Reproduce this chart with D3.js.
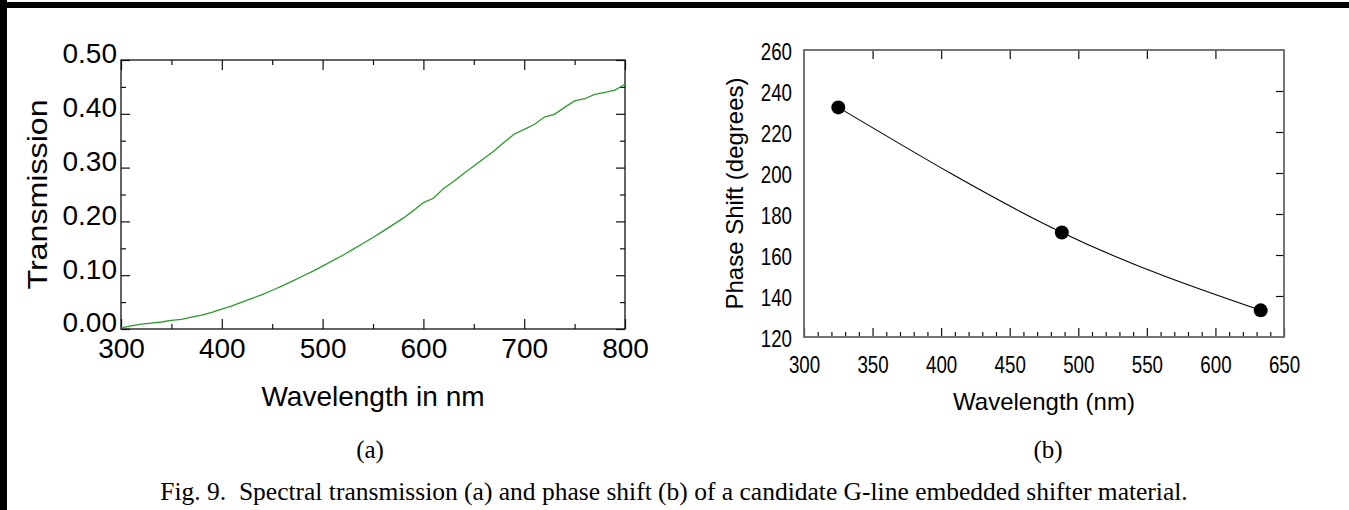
<!DOCTYPE html>
<html>
<head>
<meta charset="utf-8">
<script src="https://cdn.jsdelivr.net/npm/d3@7"></script>
<style>
  body { margin: 0; background: #fff; }
  text { font-family: "Liberation Sans", Arial, sans-serif; }
  .serif { font-family: "Liberation Serif", "Times New Roman", serif; }
</style>
</head>
<body>
<svg width="1349" height="510"></svg>
<script>
// (a) spectral transmission, every 10 nm
var wavelengthA = [300, 310, 320, 330, 340, 350, 360, 370, 380, 390,
                   400, 410, 420, 430, 440, 450, 460, 470, 480, 490,
                   500, 510, 520, 530, 540, 550, 560, 570, 580, 590,
                   600, 610, 620, 630, 640, 650, 660, 670, 680, 690,
                   700, 710, 720, 730, 740, 750, 760, 770, 780, 790, 800];
var transmission = [0.002, 0.006, 0.009, 0.011, 0.013, 0.016, 0.018, 0.022, 0.026, 0.031,
                    0.037, 0.043, 0.050, 0.057, 0.064, 0.072, 0.080, 0.089, 0.098, 0.107,
                    0.117, 0.127, 0.137, 0.148, 0.159, 0.170, 0.182, 0.194, 0.206, 0.220,
                    0.235, 0.243, 0.261, 0.274, 0.289, 0.303, 0.317, 0.331, 0.347, 0.362,
                    0.371, 0.380, 0.394, 0.399, 0.412, 0.424, 0.428, 0.436, 0.440, 0.444, 0.455];
var xTicksA = [300, 400, 500, 600, 700, 800];
var xMinorA = [350, 450, 550, 650, 750];
var yTicksA = [0, 0.1, 0.2, 0.3, 0.4, 0.5];
var yMinorA = [0.05, 0.15, 0.25, 0.35, 0.45];

// (b) phase shift at three laser lines
var wavelengthB = [325, 488, 633];
var phaseShift = [232, 171, 133];
var xTicksB = [300, 350, 400, 450, 500, 550, 600, 650];
var xMinorB = d3.range(310, 650, 10).filter(function(d) { return d % 50 != 0; });
var yTicksB = [120, 140, 160, 180, 200, 220, 240, 260];

var svg = d3.select("svg");
svg.append("rect").attr("width", 1349).attr("height", 510).attr("fill", "#fff");

// page borders
svg.append("rect").attr("x", 0).attr("y", 0).attr("width", 7).attr("height", 510).attr("fill", "#000");
svg.append("rect").attr("x", 0).attr("y", 2).attr("width", 1349).attr("height", 6).attr("fill", "#000");

// ---------- chart (a) ----------
var xA = d3.scaleLinear().domain([300, 800]).range([121, 625]),
    yA = d3.scaleLinear().domain([0, 0.5]).range([329, 60]);

var gA = svg.append("g");

function tickAxis(g, axis, y0, x0) {
  var a = g.append("g").attr("transform", "translate(" + (x0 || 0) + "," + (y0 || 0) + ")").call(axis);
  a.select(".domain").remove();
  a.selectAll("line").attr("stroke", "#111").attr("stroke-width", 1.2);
  return a;
}

var botA = tickAxis(gA, d3.axisBottom(xA).tickValues(xTicksA).tickSize(-10).tickPadding(9), 329);
botA.selectAll("text").attr("font-size", 28).attr("fill", "#000")
    .style("font-family", "Liberation Sans, Arial, sans-serif");
tickAxis(gA, d3.axisBottom(xA).tickValues(xMinorA).tickSize(-5).tickFormat(""), 329);
tickAxis(gA, d3.axisTop(xA).tickValues(xTicksA).tickSize(-10).tickFormat(""), 60);
tickAxis(gA, d3.axisTop(xA).tickValues(xMinorA).tickSize(-5).tickFormat(""), 60);

var leftA = tickAxis(gA, d3.axisLeft(yA).tickValues(yTicksA).tickSize(-9).tickPadding(4).tickFormat(d3.format(".2f")), 0, 121);
leftA.selectAll("text").attr("font-size", 28).attr("fill", "#000").attr("dy", "0.1em")
    .style("font-family", "Liberation Sans, Arial, sans-serif");
tickAxis(gA, d3.axisLeft(yA).tickValues(yMinorA).tickSize(-5).tickFormat(""), 0, 121);
tickAxis(gA, d3.axisRight(yA).tickValues(yTicksA).tickSize(-9).tickFormat(""), 0, 625);
tickAxis(gA, d3.axisRight(yA).tickValues(yMinorA).tickSize(-5).tickFormat(""), 0, 625);

gA.append("rect")
    .attr("x", xA(300)).attr("y", yA(0.5))
    .attr("width", xA(800) - xA(300)).attr("height", yA(0) - yA(0.5))
    .attr("fill", "none").attr("stroke", "#111").attr("stroke-width", 1.3);

var lineA = d3.line()
    .x(function(d, i) { return xA(wavelengthA[i]); })
    .y(function(d) { return yA(d); });

gA.append("path")
    .datum(transmission)
    .attr("d", lineA)
    .attr("fill", "none")
    .attr("stroke", "#2e9a2e")
    .attr("stroke-width", 1.3);

gA.append("text")
    .attr("transform", "translate(47," + ((yA(0) + yA(0.5)) / 2) + ") rotate(-90) scale(1.15,1)")
    .attr("text-anchor", "middle")
    .attr("font-size", 28)
    .text("Transmission");

gA.append("text")
    .attr("x", (xA(300) + xA(800)) / 2).attr("y", 406)
    .attr("text-anchor", "middle")
    .attr("font-size", 28)
    .text("Wavelength in nm");

gA.append("text").attr("class", "serif")
    .attr("x", 370).attr("y", 458)
    .attr("text-anchor", "middle")
    .attr("font-size", 25)
    .text("(a)");

// ---------- chart (b) ----------
var xB = d3.scaleLinear().domain([300, 650]).range([804, 1284]),
    yB = d3.scaleLinear().domain([120, 260]).range([337, 50]);

var gB = svg.append("g");
var narrow = 0.78;

var botB = tickAxis(gB, d3.axisBottom(xB).tickValues(xTicksB).tickSize(-9).tickPadding(19), 337);
botB.selectAll("text").attr("font-size", 24).attr("fill", "#000")
    .attr("transform", "scale(" + narrow + ",1)")
    .style("font-family", "Liberation Sans, Arial, sans-serif");
tickAxis(gB, d3.axisBottom(xB).tickValues(xMinorB).tickSize(-5).tickFormat(""), 337);
tickAxis(gB, d3.axisTop(xB).tickValues(xTicksB.slice(1, -1)).tickSize(-9).tickFormat(""), 50);
tickAxis(gB, d3.axisRight(yB).tickValues(yTicksB.slice(1, -1)).tickSize(-8).tickFormat(""), 0, 1284);

var leftB = tickAxis(gB, d3.axisLeft(yB).tickValues(yTicksB).tickSize(0).tickPadding(12), 0, 804);
leftB.selectAll("text").attr("font-size", 24).attr("fill", "#000")
    .attr("x", -12 / narrow).attr("dy", "0.38em")
    .attr("transform", "scale(" + narrow + ",1)")
    .style("font-family", "Liberation Sans, Arial, sans-serif");

gB.append("rect")
    .attr("x", xB(300)).attr("y", yB(260))
    .attr("width", xB(650) - xB(300)).attr("height", yB(120) - yB(260))
    .attr("fill", "none").attr("stroke", "#666").attr("stroke-width", 1.8);

var lineB = d3.line()
    .curve(d3.curveNatural)
    .x(function(d, i) { return xB(wavelengthB[i]); })
    .y(function(d) { return yB(d); });

gB.append("path")
    .datum(phaseShift)
    .attr("d", lineB)
    .attr("fill", "none")
    .attr("stroke", "#000")
    .attr("stroke-width", 1.1);

gB.selectAll(".dot")
    .data(phaseShift)
    .enter().append("circle")
      .attr("class", "dot")
      .attr("cx", function(d, i) { return xB(wavelengthB[i]); })
      .attr("cy", function(d) { return yB(d); })
      .attr("r", 7)
      .attr("fill", "#000");

gB.append("text")
    .attr("transform", "translate(743," + ((yB(120) + yB(260)) / 2) + ") rotate(-90)")
    .attr("text-anchor", "middle")
    .attr("font-size", 24)
    .text("Phase Shift (degrees)");

gB.append("text")
    .attr("x", (xB(300) + xB(650)) / 2).attr("y", 410)
    .attr("text-anchor", "middle")
    .attr("font-size", 24)
    .text("Wavelength (nm)");

gB.append("text").attr("class", "serif")
    .attr("x", 1048).attr("y", 458)
    .attr("text-anchor", "middle")
    .attr("font-size", 25)
    .text("(b)");

// caption
svg.append("text").attr("class", "serif")
    .attr("x", 674).attr("y", 500)
    .attr("text-anchor", "middle")
    .attr("font-size", 25.5)
    .style("white-space", "pre")
    .text("Fig. 9.  Spectral transmission (a) and phase shift (b) of a candidate G-line embedded shifter material.");
</script>
</body>
</html>
